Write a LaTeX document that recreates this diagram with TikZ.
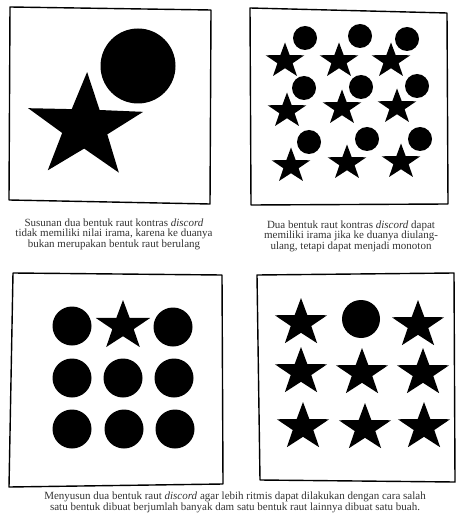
\documentclass[tikz,border=0pt]{standalone}
\usepackage{fontspec}
\setmainfont{Liberation Serif}
\usetikzlibrary{shapes.geometric}

\tikzset{
  frame/.style={line width=1.4pt, line join=round},
  starnode/.style={star, star points=5, star point ratio=2.55, fill=black, inner sep=0pt, outer sep=0pt, minimum size=#1, xscale=1.1, transform shape},
  dotnode/.style={circle, fill=black, inner sep=0pt, outer sep=0pt, minimum size=#1},
  caption/.style={align=center, text=black!80, font=\fontsize{11}{10}\selectfont, inner sep=0pt}
}

\begin{document}
\begin{tikzpicture}[x=1pt,y=-1pt]
\useasboundingbox (0,0) rectangle (456,529);
% panel 1
\draw[frame] (10,7) -- (211,10) -- (210,204) -- (9,200) -- cycle;
\node[dotnode=75] (c1) at (138,66) {};
\node[starnode=110, rotate=-2] (s1) at (85,127) {};
\node[caption] (t1) at (114,234) {Susunan dua bentuk raut kontras \textit{discord}\\ tidak memiliki nilai irama, karena ke duanya\\ bukan merupakan bentuk raut berulang};
% panel 2
\draw[frame] (250,8) -- (447,13) -- (448,204) -- (251,205) -- cycle;
\foreach \n/\sx/\sy/\cx/\cy in {1/285/61/305/38, 2/339/61/360/36, 3/391/61/407/39,
  4/287/111/304/88, 5/342/108/361/87, 6/397/107/417/86,
  7/291/166/309/142, 8/347/163/367/139, 9/401/162/420/139}{
  \node[starnode=37] (a\n) at (\sx,\sy) {};
  \node[dotnode=24] (b\n) at (\cx,\cy) {};
}
\node[caption] (t2) at (351,236) {Dua bentuk raut kontras \textit{discord} dapat\\ memiliki irama jika ke duanya diulang-\\ ulang, tetapi dapat menjadi monoton};
% panel 3
\draw[frame] (13,273) -- (222,275) -- (223,484) -- (9,487) -- cycle;
\node[starnode=52] (m1) at (123,326) {};
\foreach \n/\x/\y in {1/72/326, 3/173/327, 4/72/378, 5/123/378, 6/174/378, 7/72/429, 8/124/429, 9/175/429}
  \node[dotnode=39] (d\n) at (\x,\y) {};
% panel 4
\draw[frame] (257,275) -- (454,273) -- (455,482) -- (260,480) -- cycle;
\node[dotnode=38] (m2) at (361,319) {};
\foreach \n/\x/\y in {1/301/323, 3/418/325, 4/301/372, 5/362/373, 6/423/373, 7/303/427, 8/365/428, 9/424/427}
  \node[starnode=50] (e\n) at (\x,\y) {};
\node[caption] (t3) at (235,502) {Menyusun dua bentuk raut \textit{discord} agar lebih ritmis dapat dilakukan dengan cara salah\\ satu bentuk dibuat berjumlah banyak dam satu bentuk raut lainnya dibuat satu buah.};
\end{tikzpicture}
\end{document}
